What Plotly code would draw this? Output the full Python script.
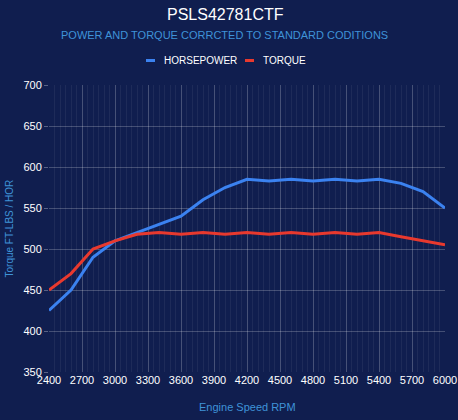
import plotly.graph_objects as go

rpm = [2400, 2600, 2800, 3000, 3200, 3400, 3600, 3800, 4000, 4200,
       4400, 4600, 4800, 5000, 5200, 5400, 5600, 5800, 6000]
horsepower = [425, 450, 490, 510, 520, 530, 540, 560, 575, 585,
              583, 585, 583, 585, 583, 585, 580, 570, 550]
torque = [450, 470, 500, 510, 518, 520, 518, 520, 518, 520,
          518, 520, 518, 520, 518, 520, 515, 510, 505]

x_ticks = list(range(2400, 6001, 300))

bg = "#101e4f"
hp_color = "#3b82f0"
tq_color = "#e8392e"
label_blue = "#3f93d8"
font_family = "Liberation Sans, Arial, sans-serif"

# plot area in pixels: x 49..445, y 85..372
L, R, T, B = 49, 445, 85, 372


def px_x(p):
    return (p - L) / (R - L)


def px_y(p):
    return (B - p) / (B - T)


fig = go.Figure()
fig.add_trace(go.Scatter(x=rpm, y=horsepower, mode="lines", name="HORSEPOWER",
                         line=dict(color=hp_color, width=3)))
fig.add_trace(go.Scatter(x=rpm, y=torque, mode="lines", name="TORQUE",
                         line=dict(color=tq_color, width=3)))

fig.update_layout(
    width=458, height=420,
    paper_bgcolor=bg, plot_bgcolor=bg,
    margin=dict(l=L, r=458 - R, t=T, b=420 - B, autoexpand=False),
    font=dict(family=font_family, color="white", size=11),
    showlegend=False,
)

# title, subtitle
fig.add_annotation(text="PSLS42781CTF", xref="paper", yref="paper", x=px_x(225), y=px_y(14),
                   xanchor="center", yanchor="middle", showarrow=False,
                   font=dict(size=16, color="white"))
fig.add_annotation(text="POWER AND TORQUE CORRCTED TO STANDARD CODITIONS", xref="paper", yref="paper",
                   x=px_x(224), y=px_y(35), xanchor="center", yanchor="middle", showarrow=False,
                   font=dict(size=11, color=label_blue))

# legend drawn by hand (short swatches)
legend_items = [("HORSEPOWER", hp_color, 146), ("TORQUE", tq_color, 245)]
for name, color, left in legend_items:
    fig.add_shape(type="rect", xref="paper", yref="paper",
                  x0=px_x(left), x1=px_x(left + 9), y0=px_y(62), y1=px_y(59),
                  fillcolor=color, line=dict(width=0))
    fig.add_annotation(text=name, xref="paper", yref="paper", x=px_x(left + 16), y=px_y(60.5),
                       xanchor="left", yanchor="middle", showarrow=False,
                       font=dict(size=10, color="white"))

# axis titles
fig.add_annotation(text="Engine Speed RPM", xref="paper", yref="paper", x=0.5, y=px_y(407),
                   xanchor="center", yanchor="middle", showarrow=False,
                   font=dict(size=11, color=label_blue))
fig.add_annotation(text="Torque FT-LBS / HOR", xref="paper", yref="paper", x=px_x(9), y=0.5,
                   xanchor="center", yanchor="middle", showarrow=False, textangle=-90,
                   font=dict(size=10, color=label_blue))

fig.update_xaxes(
    range=[2400, 6000], tickvals=x_ticks, ticks="", tickfont=dict(size=11, color="white"),
    showgrid=True, gridcolor="rgba(255,255,255,0.18)", gridwidth=1,
    minor=dict(dtick=50, showgrid=True, gridcolor="rgba(255,255,255,0.06)"),
    zeroline=False, showline=False, automargin=False,
)
fig.update_yaxes(
    range=[350, 700], dtick=50, tickfont=dict(size=11, color="white"),
    ticks="outside", ticklen=4, tickcolor="rgba(255,255,255,0.3)",
    showgrid=True, gridcolor="rgba(255,255,255,0.22)", gridwidth=1,
    zeroline=False, showline=False, automargin=False,
)

# drop the browser's default page margin so the figure fills the window
fig.write_html("out.html", config={"displayModeBar": False},
               post_script="document.body.style.margin='0';")
